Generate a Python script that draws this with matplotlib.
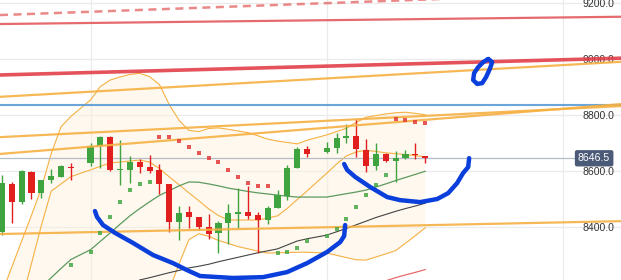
import numpy
import matplotlib
matplotlib.use('Agg')
import matplotlib.pyplot as plt

nan = numpy.nan

# session slots (two empty slots at 8 and 32)
pos = [0, 1, 2, 3, 4, 5, 6, 7,
       9, 10, 11, 12, 13, 14, 15, 16, 17, 18, 19, 20, 21, 22, 23, 24, 25, 26, 27, 28, 29, 30, 31,
       33, 34, 35, 36, 37, 38, 39, 40, 41, 42, 43]

opens = [8383, 8555, 8490, 8598, 8522, 8569, 8580, 8617,
         8630, 8690, 8722, 8603, 8605, 8633, 8615, 8605, 8555, 8419, 8455, 8437, 8401, 8380, 8415,
         8449, 8455, 8444, 8426, 8469, 8512, 8612, 8680,
         8669, 8683, 8719, 8726, 8676, 8619, 8662, 8637, 8648, 8662, 8655]
highs = [8587, 8562, 8605, 8601, 8569, 8608, 8622, 8630,
         8701, 8726, 8726, 8712, 8655, 8644, 8658, 8626, 8555, 8476, 8476, 8437, 8447, 8422, 8483,
         8540, 8547, 8455, 8476, 8533, 8622, 8687, 8690,
         8705, 8737, 8769, 8787, 8715, 8701, 8665, 8672, 8676, 8701, 8655]
lows = [8372, 8417, 8483, 8501, 8505, 8558, 8580, 8569,
        8619, 8612, 8601, 8551, 8558, 8594, 8594, 8519, 8383, 8355, 8397, 8390, 8358, 8308, 8340,
        8397, 8430, 8308, 8412, 8469, 8497, 8612, 8651,
        8665, 8665, 8701, 8651, 8597, 8605, 8633, 8562, 8644, 8644, 8630]
closes = [8558, 8490, 8601, 8522, 8569, 8583, 8619, 8613,
          8690, 8722, 8605, 8605, 8633, 8615, 8601, 8555, 8419, 8451, 8437, 8401, 8376, 8415, 8451,
          8452, 8440, 8426, 8469, 8515, 8612, 8680, 8662,
          8683, 8719, 8726, 8680, 8619, 8662, 8637, 8648, 8662, 8658, 8646.5]

band_upper = [8165, 8258, 8351, 8443, 8539, 8663, 8759, 8796,
              8855, 8903, 8926, 8937, 8946, 8950, 8938, 8910, 8838, 8782, 8746, 8742, 8753, 8755,
              8750, 8744, 8738, 8727, 8715, 8708, 8703, 8698, 8711,
              8730, 8742, 8754, 8775, 8793, 8799, 8805, 8809, 8811, 8807, 8802]
band_mid = [7865, 7998, 8137, 8271, 8406, 8529, 8555, 8581,
            8605, 8618, 8630, 8633, 8637, 8640, 8633, 8610, 8580, 8552, 8523, 8495, 8466, 8442,
            8426, 8426, 8426, 8426, 8433, 8441, 8468, 8499, 8530,
            8593, 8626, 8655, 8669, 8675, 8671, 8666, 8663, 8660, 8656, 8652]
band_lower = [7560, 7640, 7720, 7800, 7860, 7900, 7930, 7960,
              7990, 8010, 8030, 8040, 8050, 8060, 8070, 8083, 8176, 8270, 8356, 8377, 8368, 8353,
              8342, 8331, 8323, 8315, 8308, 8309, 8310, 8311, 8311,
              8308, 8300, 8292, 8284, 8283, 8294, 8305, 8317, 8343, 8370, 8398]

ma_green = [nan, nan, nan, nan, 8186, 8220, 8253, 8285,
            8320, 8350, 8380, 8411, 8441, 8467, 8491, 8514, 8531, 8548, 8562, 8561, 8555, 8548,
            8540, 8534, 8528, 8523, 8519, 8515, 8511, 8508, 8508,
            8508, 8514, 8520, 8526, 8533, 8544, 8555, 8567, 8578, 8589, 8600]
ma_black = [nan, nan, nan, nan, nan, nan, nan, nan,
            nan, nan, nan, nan, nan, 8212, 8220, 8229, 8238, 8246, 8255, 8261, 8268, 8277,
            8285, 8293, 8301, 8309, 8316, 8323, 8337, 8351, 8359,
            8372, 8384, 8396, 8409, 8422, 8435, 8446, 8457, 8467, 8476, 8486]
ma_red = [nan, nan, nan, nan, nan, nan, nan, nan,
          nan, nan, nan, nan, nan, nan, nan, nan, nan, nan, nan, nan, nan, nan,
          nan, nan, nan, nan, nan, nan, nan, nan, nan,
          nan, nan, nan, nan, nan, nan, 8209, 8220, 8230, 8239, 8249]

# parabolic SAR
sar_dn_pos = [16, 17, 18, 19, 20, 21, 22, 23, 24, 25, 26, 27, 40, 41, 42, 43]
sar_dn = [8724, 8721, 8708, 8687, 8665, 8648, 8633, 8605, 8580, 8558, 8548, 8548,
          8787, 8783, 8776, 8773]
sar_up_pos = [7, 9, 10, 11, 12, 13, 14, 15, 28, 29, 30, 31, 33, 34, 35, 36, 37, 38, 39]
sar_up = [8265, 8312, 8380, 8437, 8490, 8533, 8555, 8562,
          8308, 8312, 8326, 8351, 8369, 8394, 8430, 8473, 8515, 8551, 8587]

# drawn trend lines: level at left edge, level at right edge
trend_left = [9158, 9126, 8944, 8866, 8837, 8722, 8662, 8376]
trend_right = [9239, 9152, 9004, 8991, 8837, 8833, 8840, 8422]
trend_color = ['#e87a7a', '#e35a5e', '#e2404a', '#f6b143', '#5b9bd5', '#f6b143', '#f6b143', '#f6b143']
trend_width = [1.8, 1.6, 2.6, 1.6, 1.5, 1.6, 1.6, 1.6]
trend_dashed = [True, False, False, False, False, False, False, False]

# hand-drawn marker strokes (slot, price)
stroke1_x = [9.45, 9.66, 10.27, 11.49, 13.32, 15.35, 17.38, 18.81, 20.13, 23.48, 26.53, 28.97,
             31.0, 33.04, 34.36, 34.77, 34.87]
stroke1_y = [8458, 8437, 8408, 8380, 8344, 8301, 8272, 8247, 8226, 8219, 8222, 8240,
             8272, 8312, 8347, 8369, 8408]
stroke2_x = [34.77, 35.07, 35.89, 37.41, 39.14, 40.46, 42.49, 44.22, 45.34, 46.25, 46.86, 47.37, 47.47]
stroke2_y = [8626, 8605, 8580, 8544, 8508, 8497, 8490, 8501, 8522, 8558, 8594, 8615, 8647]
stroke3_x = [49.41, 49.81, 49.61, 49.2, 48.8, 48.29, 47.88, 47.98, 48.39, 48.9, 49.41]
stroke3_y = [9001, 8990, 8969, 8937, 8915, 8912, 8926, 8951, 8972, 8990, 9001]

last_price = 8646.5
y_ticks = [8400, 8600, 8800, 9000, 9200]
time_grid = [9, 33, 57]

XLIM = (-0.2, 62.9)
YLIM = (8211.8, 9211.8)

fig = plt.figure(figsize=(6.21, 2.80), dpi=100)
ax = fig.add_axes([0, 0, 1, 1])
ax.set_xlim(*XLIM)
ax.set_ylim(*YLIM)
for s in ax.spines.values():
    s.set_visible(False)

ax.set_xticks(time_grid)
ax.set_yticks(y_ticks)
ax.set_yticklabels(['%.1f' % v for v in y_ticks])
ax.tick_params(axis='x', length=0, labelbottom=False)
ax.yaxis.tick_right()
ax.tick_params(axis='y', length=0, pad=-28, labelsize=7.6, labelcolor='#333333')
for lab in ax.get_yticklabels():
    lab.set_family('Liberation Sans')
    lab.set_horizontalalignment('left')
ax.grid(True, color='#ebebeb', linewidth=0.9, zorder=0)
ax.set_axisbelow(True)

px = numpy.array(pos, dtype=float)

# bands
ax.fill_between(px, band_lower, band_upper, color='#fdf1dc', alpha=0.45, linewidth=0, zorder=1)
for band in (band_upper, band_mid, band_lower):
    ax.plot(px, band, color='#f6b143', linewidth=0.8, zorder=2)

# moving averages
ax.plot(px, ma_green, color='#5e9a5e', linewidth=0.9, zorder=2)
ax.plot(px, ma_black, color='#444444', linewidth=0.8, zorder=2)
ax.plot(px, ma_red, color='#e86a6a', linewidth=0.9, zorder=2)

# last price line
ax.axhline(last_price, xmax=576 / 621, color='#b4bcc6', linewidth=0.9, zorder=2)

# candles
o = numpy.array(opens)
c = numpy.array(closes)
up = c >= o
cols = numpy.where(up, '#3fa43f', '#e21f1f')
ax.vlines(px, lows, highs, colors=cols, linewidth=1.0, zorder=3)
bottoms = numpy.minimum(o, c)
heights = numpy.maximum(numpy.abs(c - o), 4)
ax.bar(px, heights, bottom=bottoms, width=0.62, color=cols, linewidth=0, zorder=3)

# trend lines
for lv0, lv1, col, lw, dashed in zip(trend_left, trend_right, trend_color, trend_width, trend_dashed):
    line, = ax.plot(XLIM, [lv0, lv1], color=col, linewidth=lw, alpha=0.9, zorder=4)
    if dashed:
        line.set_dashes((3.2, 2.2))

# SAR
ax.scatter(sar_dn_pos, sar_dn, marker='s', s=9, color='#e23a3a', alpha=0.85, linewidths=0, zorder=5)
ax.scatter(sar_up_pos, sar_up, marker='s', s=9, color='#45a845', alpha=0.85, linewidths=0, zorder=5)

# marker strokes
for sx, sy in ((stroke1_x, stroke1_y), (stroke2_x, stroke2_y), (stroke3_x, stroke3_y)):
    ax.plot(sx, sy, color='#0a3fdc', linewidth=3.2, solid_capstyle='round',
            solid_joinstyle='round', zorder=6)

# price tag
ax.annotate('%.1f' % last_price, xy=(578 / 621, last_price), xycoords=('axes fraction', 'data'),
            ha='left', va='center', fontsize=7.6, family='Liberation Sans', color='white',
            bbox=dict(boxstyle='round,pad=0.3,rounding_size=0.2', fc='#4b5a77', ec='none'),
            zorder=7)

fig.savefig('out.png', dpi=100)
